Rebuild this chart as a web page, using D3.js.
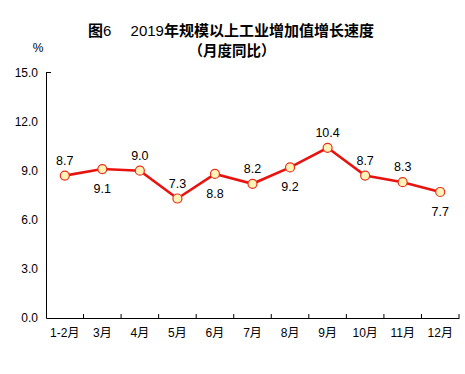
<!DOCTYPE html>
<html><head><meta charset="utf-8">
<script src="https://cdn.jsdelivr.net/npm/d3@7"></script>
<style>body{margin:0;background:#fff}svg{display:block}</style>
</head><body>
<svg id="c" width="465" height="374"></svg>
<script>
const categories = ["1-2月","3月","4月","5月","6月","7月","8月","9月","10月","11月","12月"];
const values = [8.7, 9.1, 9.0, 7.3, 8.8, 8.2, 9.2, 10.4, 8.7, 8.3, 7.7];
const labelPos = ["above","below","above","above","below","above","below","above","above","above","below"];
const yTicks = [0, 3, 6, 9, 12, 15];

const svg = d3.select("#c");
const m = {left: 46, right: 459, top: 72.5, bottom: 318};
const x = d3.scaleBand().domain(categories).range([m.left, m.right]);
const y = d3.scaleLinear().domain([0, 15]).range([m.bottom, m.top]);
const font = "'Liberation Sans', Arial, sans-serif";
const cjk = "'Liberation Sans', 'Noto Sans CJK SC', sans-serif";

// title
const t = svg.append("text").attr("x", 231).attr("y", 36).attr("text-anchor", "middle")
  .attr("font-family", cjk).attr("font-size", 15).attr("fill", "#000");
t.append("tspan").attr("font-weight", "bold").text("图");
t.append("tspan").attr("font-weight", "normal").text("6\u2003 2019");
t.append("tspan").attr("font-weight", "bold").text("年规模以上工业增加值增长速度");
svg.append("text").attr("x", 232).attr("y", 56).attr("text-anchor", "middle")
  .attr("font-family", cjk).attr("font-size", 14.5).attr("font-weight", "bold").text("（月度同比）");
svg.append("text").attr("x", 38).attr("y", 52).attr("text-anchor", "middle")
  .attr("font-family", font).attr("font-size", 12).text("%");

// y axis
const ya = svg.append("g").attr("transform", `translate(${m.left},0)`)
  .call(d3.axisLeft(y).tickValues(yTicks).tickFormat(d3.format(".1f")).tickSize(0).tickPadding(8));
ya.select(".domain").attr("stroke", "#000").attr("stroke-width", 1);
ya.selectAll("text").attr("font-family", font).attr("font-size", 12).attr("fill", "#000");
svg.append("line").attr("x1", m.left).attr("x2", m.left + 5).attr("y1", y(15)).attr("y2", y(15))
  .attr("stroke", "#000");

// x axis
const xa = svg.append("g").attr("transform", `translate(0,${m.bottom})`)
  .call(d3.axisBottom(x).tickSize(0).tickPadding(10));
xa.select(".domain").attr("stroke", "#000").attr("stroke-width", 1);
xa.selectAll("text").attr("font-family", cjk).attr("font-size", 12).attr("fill", "#000");
const edges = categories.map(c => x(c) + x.bandwidth());
svg.append("g").selectAll("line").data(edges).join("line")
  .attr("x1", d => d).attr("x2", d => d).attr("y1", m.bottom).attr("y2", m.bottom - 4)
  .attr("stroke", "#000");

// line
const cx = (d, i) => x(categories[i]) + x.bandwidth() / 2;
svg.append("path").datum(values)
  .attr("d", d3.line().x(cx).y(d => y(d)))
  .attr("fill", "none").attr("stroke", "#e8130f").attr("stroke-width", 2.6);
svg.append("g").selectAll("circle").data(values).join("circle")
  .attr("cx", cx).attr("cy", d => y(d)).attr("r", 4.5)
  .attr("fill", "#fff3b8").attr("stroke", "#e8301a").attr("stroke-width", 1.2);
svg.append("g").selectAll("text").data(values).join("text")
  .attr("x", cx).attr("y", (d, i) => y(d) + (labelPos[i] === "above" ? -11 : 24))
  .attr("text-anchor", "middle").attr("font-family", font).attr("font-size", 12.5).attr("fill", "#000")
  .text(d => d3.format(".1f")(d));
</script>
</body></html>
